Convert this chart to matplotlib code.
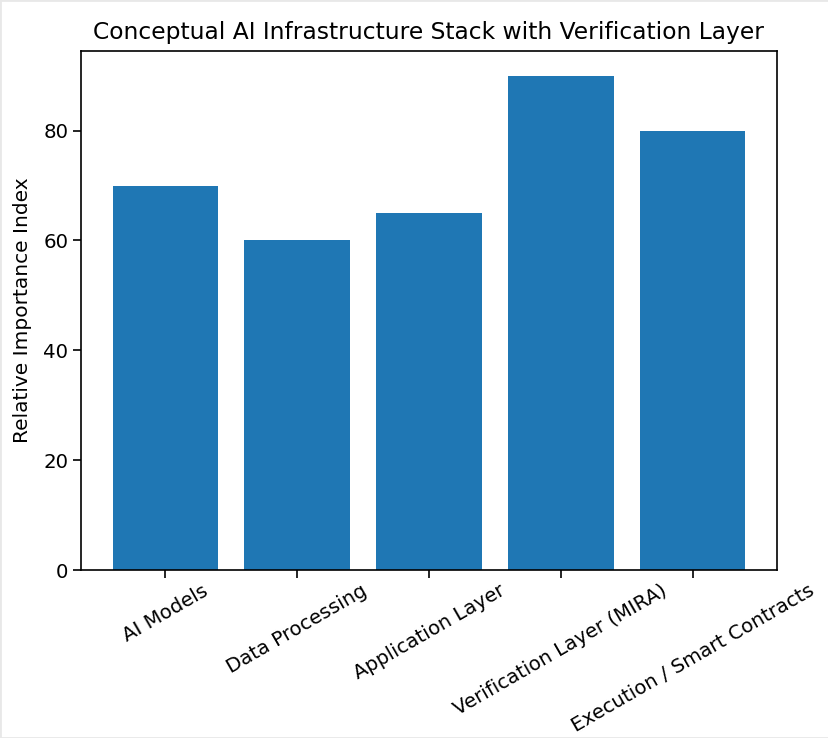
import matplotlib
matplotlib.use("Agg")
import matplotlib.pyplot as plt
from matplotlib.patches import Rectangle

layers = ["AI Models", "Data Processing", "Application Layer",
          "Verification Layer (MIRA)", "Execution / Smart Contracts"]
importance = [70, 60, 65, 90, 80]

fig = plt.figure(figsize=(8.29, 7.38), dpi=100)
ax = fig.add_axes([81/829, 1 - 570/738, 696/829, 519/738])

ax.bar(layers, importance, color="#1f77b4")
ax.set_title("Conceptual AI Infrastructure Stack with Verification Layer", fontsize=16.8, pad=9)
ax.set_ylabel("Relative Importance Index", fontsize=14.5, labelpad=8)
ax.tick_params(labelsize=14.2, length=5.5, width=1.2)
ax.tick_params(axis="x", pad=2.5)
plt.setp(ax.get_xticklabels(), rotation=30)
for s in ax.spines.values():
    s.set_linewidth(1.2)

# light border left over from the screenshot
fig.patches.append(Rectangle((0, 0), 1, 1, transform=fig.transFigure,
                             fill=False, edgecolor="#e8e8e8", linewidth=2))

fig.savefig("out.png", dpi=100)
